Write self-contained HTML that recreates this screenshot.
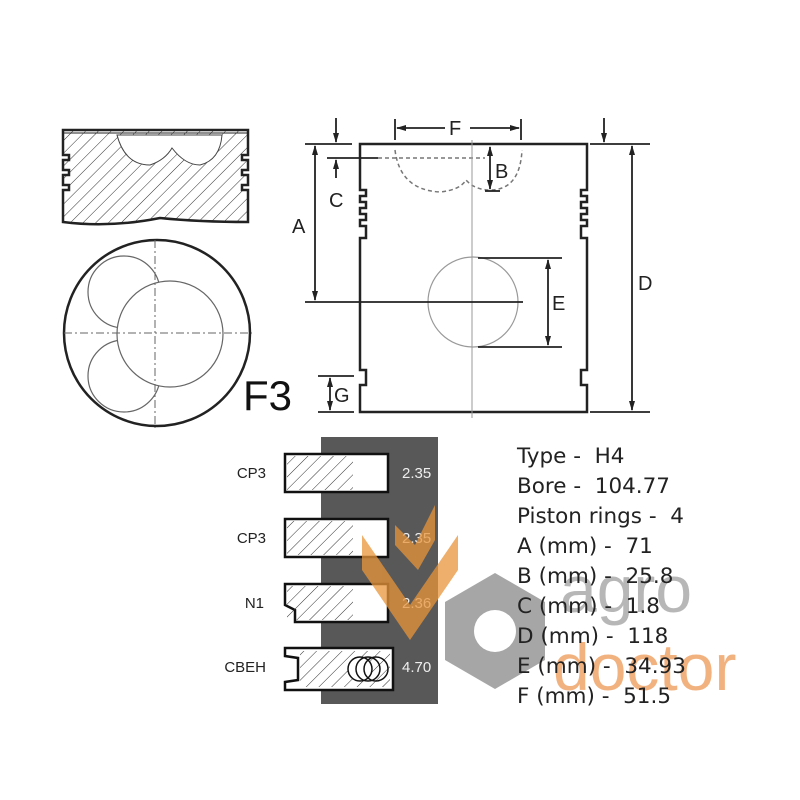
<!DOCTYPE html>
<html><head><meta charset="utf-8"><style>
html,body{margin:0;padding:0;background:#fff;}
svg{display:block;font-family:"Liberation Sans",sans-serif;}
</style></head><body>
<svg width="800" height="800" viewBox="0 0 800 800" xmlns="http://www.w3.org/2000/svg">
<defs>
<pattern id="h" width="9" height="9" patternUnits="userSpaceOnUse" patternTransform="rotate(45)">
<line x1="0" y1="0" x2="0" y2="9" stroke="#333" stroke-width="1"/>
</pattern>
<marker id="a" markerUnits="userSpaceOnUse" markerWidth="10" markerHeight="8" refX="9" refY="4" orient="auto-start-reverse"><path d="M0,1 L10,4 L0,7 Z" fill="#222"/></marker>
<mask id="m"><rect width="800" height="800" fill="#fff"/><circle cx="170" cy="334" r="53" fill="#000"/></mask>
</defs>
<rect width="800" height="800" fill="#fff"/>

<path d="M63,130 L248,130 L248,155 L242,155 L242,160 L248,160 L248,170 L242,170 L242,175 L248,175 L248,185 L242,185 L242,190 L248,190 L248,222 Q200,222 160,218 Q110,228 63,222 L63,190 L69,190 L69,185 L63,185 L63,175 L69,175 L69,170 L63,170 L63,160 L69,160 L69,155 L63,155 Z" fill="url(#h)" stroke="#222" stroke-width="2.5"/>
<path d="M117,135 Q125,165 150,165 Q165,160 172,148 Q185,165 200,165 Q220,160 222,135 Z" fill="#fff" stroke="#444" stroke-width="1"/>
<line x1="63" y1="133" x2="248" y2="133" stroke="#222" stroke-width="1"/>

<circle cx="157" cy="333" r="93" fill="none" stroke="#222" stroke-width="2.5"/>
<circle cx="170" cy="334" r="53" fill="none" stroke="#666" stroke-width="1.2"/>
<g mask="url(#m)" fill="none" stroke="#666" stroke-width="1.2">
<circle cx="124" cy="292" r="36"/>
<circle cx="124" cy="376" r="36"/>
</g>
<line x1="64" y1="333" x2="252" y2="333" stroke="#666" stroke-width="1" stroke-dasharray="8,3,2,3"/>
<line x1="155" y1="240" x2="155" y2="428" stroke="#666" stroke-width="1" stroke-dasharray="8,3,2,3"/>
<text x="243" y="410" font-size="42" fill="#111">F3</text>

<path d="M360,144 L587,144 L587,190 L581,190 L581,196 L587,196 L587,202 L581,202 L581,208 L587,208 L587,214 L581,214 L581,220 L587,220 L587,226 L581,226 L581,238 L587,238 L587,370 L581,370 L581,385 L587,385 L587,412 L360,412 L360,385 L366,385 L366,370 L360,370 L360,238 L366,238 L366,226 L360,226 L360,220 L366,220 L366,214 L360,214 L360,208 L366,208 L366,202 L360,202 L360,196 L366,196 L366,190 L360,190 Z" fill="#fff" stroke="#222" stroke-width="2.5"/>
<path d="M395,150 Q400,190 440,192 Q460,190 466,180 Q475,190 490,190 Q520,190 522,150" fill="none" stroke="#777" stroke-width="1.5" stroke-dasharray="4,3"/>
<line x1="378" y1="158" x2="485" y2="158" stroke="#777" stroke-width="1.5" stroke-dasharray="4,3"/>
<line x1="472" y1="140" x2="472" y2="418" stroke="#999" stroke-width="1"/>
<circle cx="473" cy="302" r="45" fill="none" stroke="#999" stroke-width="1.2"/>
<g stroke="#222" stroke-width="1.8" fill="none">
<line x1="305" y1="144" x2="352" y2="144"/>
<line x1="590" y1="144" x2="650" y2="144"/>
<line x1="590" y1="412" x2="650" y2="412"/>
<line x1="305" y1="302" x2="523" y2="302"/>
<line x1="478" y1="258" x2="562" y2="258"/>
<line x1="478" y1="347" x2="562" y2="347"/>
<line x1="327" y1="158" x2="378" y2="158"/>
<line x1="318" y1="376" x2="354" y2="376"/>
<line x1="318" y1="412" x2="354" y2="412"/>
<line x1="485" y1="191" x2="500" y2="191"/>
<line x1="395" y1="119" x2="395" y2="140"/>
<line x1="521" y1="119" x2="521" y2="140"/>
<line x1="315" y1="146" x2="315" y2="300" marker-end="url(#a)" marker-start="url(#a)"/>
<line x1="632" y1="146" x2="632" y2="410" marker-end="url(#a)" marker-start="url(#a)"/>
<line x1="548" y1="260" x2="548" y2="345" marker-end="url(#a)" marker-start="url(#a)"/>
<line x1="490" y1="147" x2="490" y2="189" marker-end="url(#a)" marker-start="url(#a)"/>
<line x1="330" y1="378" x2="330" y2="410" marker-end="url(#a)" marker-start="url(#a)"/>
<line x1="445" y1="128" x2="397" y2="128" marker-end="url(#a)"/>
<line x1="470" y1="128" x2="519" y2="128" marker-end="url(#a)"/>
<line x1="336" y1="118" x2="336" y2="142" marker-end="url(#a)"/>
<line x1="604" y1="118" x2="604" y2="142" marker-end="url(#a)"/>
<line x1="336" y1="178" x2="336" y2="160" marker-end="url(#a)"/>
</g>
<g font-size="20" fill="#222">
<text x="449" y="135">F</text>
<text x="495" y="178">B</text>
<text x="329" y="207">C</text>
<text x="292" y="233">A</text>
<text x="552" y="310">E</text>
<text x="638" y="290">D</text>
<text x="334" y="402">G</text>
</g>

<rect x="321" y="437" width="117" height="267" fill="#585858"/>
<g font-size="15" fill="#222" text-anchor="end">
<text x="266" y="478">CP3</text>
<text x="266" y="543">CP3</text>
<text x="264" y="608">N1</text>
<text x="266" y="672">CBEH</text>
</g>
<g font-size="15" fill="#eee">
<text x="402" y="478">2.35</text>
<text x="402" y="543">2.35</text>
<text x="402" y="608">2.36</text>
<text x="402" y="672">4.70</text>
</g>
<g stroke="#111" stroke-width="2.5">
<rect x="285" y="454" width="103" height="38" fill="#fff"/>
<rect x="287" y="456" width="66" height="34" fill="url(#h)" stroke="none"/>
<rect x="285" y="519" width="103" height="38" fill="#fff"/>
<rect x="287" y="521" width="66" height="34" fill="url(#h)" stroke="none"/>
<path d="M285,584 L388,584 L388,622 L295,622 L295,610 L285,605 Z" fill="#fff"/>
<rect x="287" y="586" width="66" height="34" fill="url(#h)" stroke="none"/>
<path d="M285,648 L393,648 L393,690 L285,690 L285,682 L298,680 L298,658 L285,656 Z" fill="#fff"/>
<rect x="300" y="651" width="90" height="36" fill="url(#h)" stroke="none"/>
</g>
<g fill="none" stroke="#111" stroke-width="1.5">
<circle cx="360" cy="669" r="12" fill="#fff"/><circle cx="368" cy="669" r="12"/><circle cx="376" cy="669" r="12"/>
</g>

<polygon points="495,573 545,602 545,660 495,689 445,660 445,602" fill="#888" opacity="0.75"/>
<circle cx="495" cy="631" r="21" fill="#fff"/>
<g fill="#e8953a" opacity="0.75">
<polygon points="362,535 362,570 410,640 410,605"/>
<polygon points="410,605 410,640 458,570 458,535"/>
<polygon points="395,525 415,545 435,505 435,540 418,570 395,545"/>
</g>
<text x="560" y="612" font-size="66" fill="#888" opacity="0.6">agro</text>
<text x="553" y="690" font-size="66" fill="#f0a060" opacity="0.8">doctor</text>

<g font-size="21.5" fill="#222" font-family="DejaVu Sans, sans-serif">
<text x="517" y="463">Type -&#160; H4</text>
<text x="517" y="493">Bore -&#160; 104.77</text>
<text x="517" y="523">Piston rings -&#160; 4</text>
<text x="517" y="553">A (mm) -&#160; 71</text>
<text x="517" y="583">B (mm) -&#160; 25.8</text>
<text x="517" y="613">C (mm) -&#160; 1.8</text>
<text x="517" y="643">D (mm) -&#160; 118</text>
<text x="517" y="673">E (mm) -&#160; 34.93</text>
<text x="517" y="703">F (mm) -&#160; 51.5</text>
</g>
</svg>
</body></html>
